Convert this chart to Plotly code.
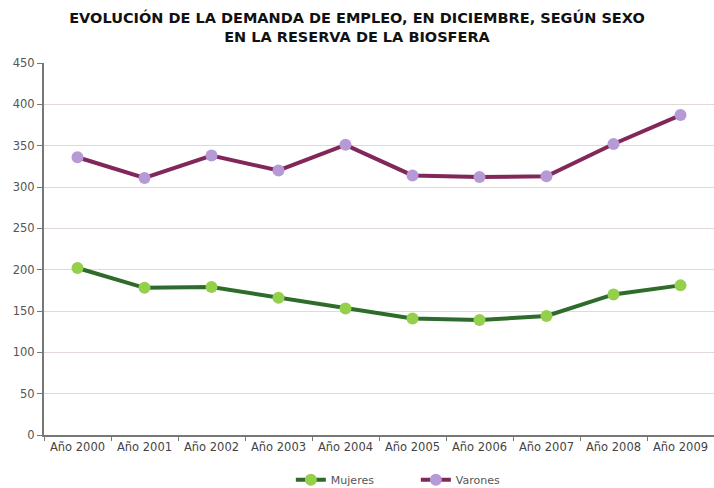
import plotly.graph_objects as go

# data
years = ["Año 2000", "Año 2001", "Año 2002", "Año 2003", "Año 2004",
         "Año 2005", "Año 2006", "Año 2007", "Año 2008", "Año 2009"]
mujeres = [202, 178, 179, 166, 153, 141, 139, 144, 170, 181]
varones = [336, 311, 338, 320, 351, 314, 312, 313, 352, 387]
y_ticks = [0, 50, 100, 150, 200, 250, 300, 350, 400, 450]

fig = go.Figure()

fig.add_trace(go.Scatter(
    x=years, y=mujeres, name="Mujeres",
    mode="lines+markers",
    line=dict(color="#2f6b2a", width=4),
    marker=dict(size=12, color="#95d04c"),
))

fig.add_trace(go.Scatter(
    x=years, y=varones, name="Varones",
    mode="lines+markers",
    line=dict(color="#82275a", width=4),
    marker=dict(size=12, color="#b69ad6"),
))

fig.update_layout(
    width=714, height=488,
    title=dict(
        text="<b>EVOLUCIÓN DE LA DEMANDA DE EMPLEO, EN DICIEMBRE, SEGÚN SEXO<br>EN LA RESERVA DE LA BIOSFERA</b>",
        x=0.5, xanchor="center", yref="container", y=0.952, yanchor="top",
        font=dict(family="DejaVu Sans", size=14.5, color="#111111"),
    ),
    font=dict(family="DejaVu Sans", size=11, color="#555555"),
    paper_bgcolor="white",
    plot_bgcolor="white",
    margin=dict(l=44, r=0, t=63, b=53),
    showlegend=True,
    legend=dict(
        orientation="h", x=0.555, xanchor="center",
        yref="container", y=0.017, yanchor="middle",
        font=dict(size=11, color="#555555"),
        itemwidth=30, entrywidth=80, entrywidthmode="pixels",
    ),
    xaxis=dict(
        type="category", range=[-0.5, 9.5], automargin=False,
        showline=True, linecolor="#777777", linewidth=2,
        ticks="outside", tickson="boundaries", ticklen=4, tickcolor="#777777",
        showgrid=False, tickfont=dict(size=11.5, color="#444444"),
    ),
    yaxis=dict(
        range=[0, 450], tickvals=y_ticks, automargin=False,
        showline=True, linecolor="#777777", linewidth=2,
        ticks="outside", ticklen=5, tickcolor="#777777",
        gridcolor="#e2d8d8", gridwidth=1, zeroline=False,
        tickfont=dict(size=11.5, color="#555555"),
    ),
)

# drop the browser's default body margin so the figure fills the window
fig.write_html("out.html", config={"displayModeBar": False},
               post_script="document.body.style.margin='0';")
